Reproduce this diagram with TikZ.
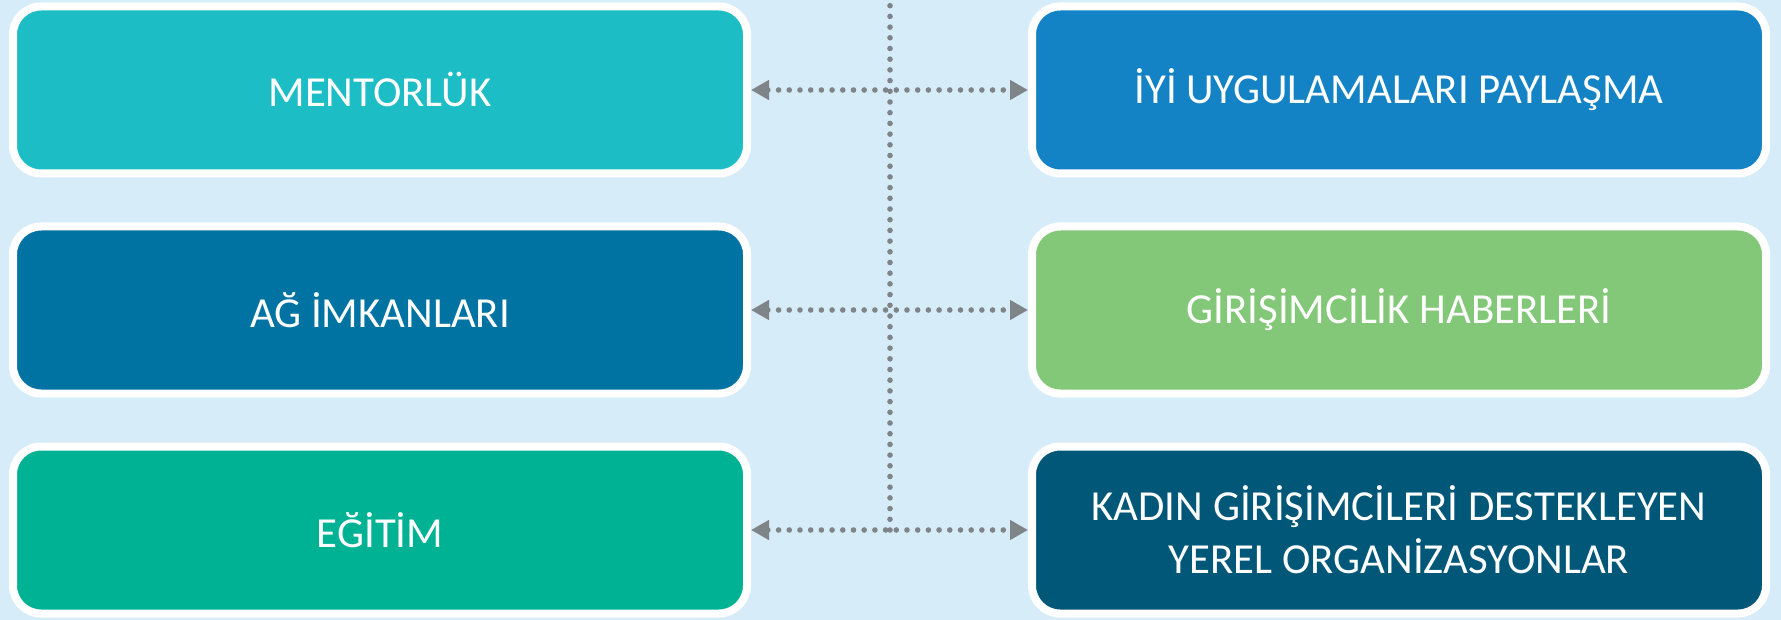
\documentclass[tikz,border=0pt]{standalone}
\usepackage{fontspec}
\setmainfont{Carlito}
\usetikzlibrary{shadows,arrows.meta}
\definecolor{bg}{HTML}{D6ECF9}
\definecolor{cA}{HTML}{1DBDC6}
\definecolor{cB}{HTML}{0073A3}
\definecolor{cC}{HTML}{00B294}
\definecolor{dA}{HTML}{1383C6}
\definecolor{dB}{HTML}{83C878}
\definecolor{dC}{HTML}{005778}
\definecolor{conn}{HTML}{7F8488}
\tikzset{
  boxnode/.style={draw=white, line width=4pt, rounded corners=14pt,
    minimum width=367pt, minimum height=83.5pt, inner sep=0pt, text=white,
    align=center, font=\fontsize{21.4}{26.5}\selectfont,
    drop shadow={shadow xshift=1pt, shadow yshift=-1.6pt, opacity=0.35, fill=black}},
  dotline/.style={draw=conn, line width=2.8pt, dash pattern=on 0pt off 5.35pt, line cap=round},
  tipsboth/.style={{Triangle[length=9pt,width=9.5pt]}-{Triangle[length=9pt,width=9.5pt]}}
}
\begin{document}
\begin{tikzpicture}[x=0.5pt,y=-0.5pt]
\useasboundingbox (0,0) rectangle (1781,620);
\fill[bg] (0,0) rectangle (1781,620);
\node[boxnode, fill=cA] (m) at (380,90) {MENTORLÜK};
\node[boxnode, fill=cB] (a) at (380,310) {AĞ İMKANLARI};
\node[boxnode, fill=cC] (e) at (380,530) {EĞİTİM};
\node[boxnode, fill=dA] (i) at (1399,90) {İYİ UYGULAMALARI PAYLAŞMA};
\node[boxnode, fill=dB] (g) at (1399,310) {GİRİŞİMCİLİK HABERLERİ};
\node[boxnode, fill=dC] (k) at (1399,530) {KADIN GİRİŞİMCİLERİ DESTEKLEYEN\\YEREL ORGANİZASYONLAR};
\coordinate (top) at (890,0);
\draw[dotline] (top |- e) -- (top);
\draw[dotline, tipsboth] (m) -- (i);
\draw[dotline, tipsboth] (a) -- (g);
\draw[dotline, tipsboth] (e) -- (k);
\end{tikzpicture}
\end{document}
